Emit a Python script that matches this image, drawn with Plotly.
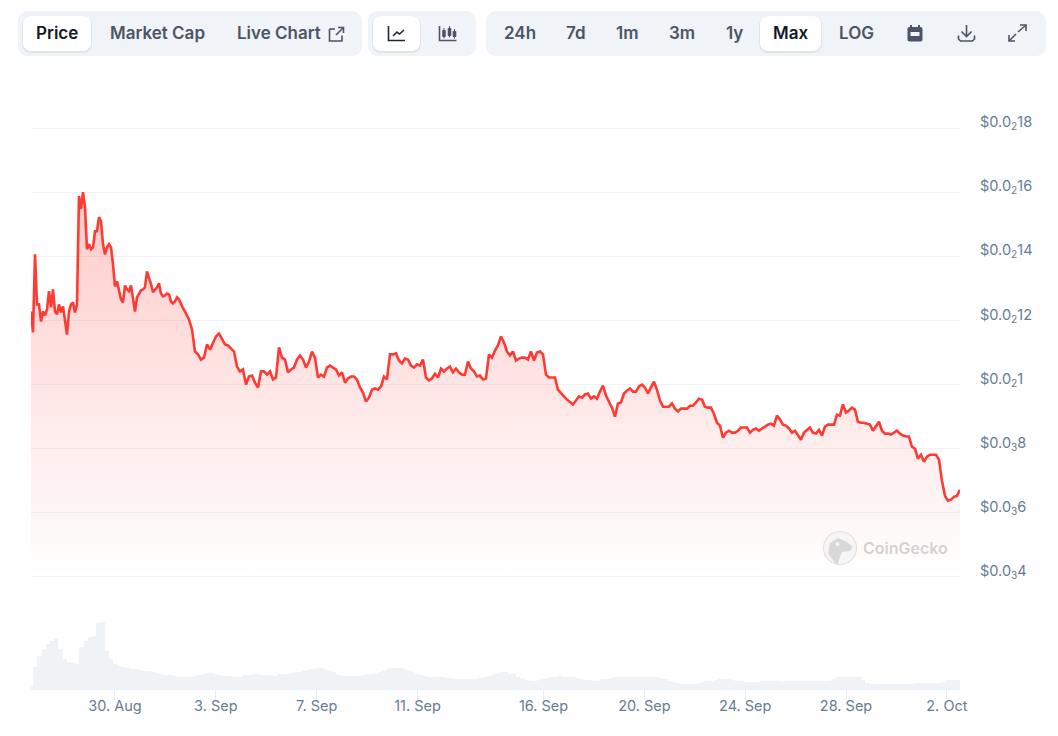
import pandas as pd
import plotly.graph_objects as go

W, H = 1058, 736

# Price, in units of 0.0001
price_early = [
    12.28, 11.63, 14.06, 12.5, 12.5, 11.97, 12.28, 12.16, 12.34, 12.91, 12.41, 12.97, 12.28, 12.19, 12.5, 12.25,
    12.44, 11.97, 11.56, 12.28, 12.5, 12.56, 12.25, 12.5, 15.88, 15.47, 16.0, 15.53, 14.22, 14.38, 14.22, 14.28,
    14.78, 14.78, 15.22, 15.09, 14.38, 14.06, 14.28, 14.38, 14.28, 13.75, 13.06, 13.22, 12.94, 12.66, 12.56, 13.09,
    12.97, 12.91, 13.09, 12.72, 12.28, 12.72, 12.81, 12.94, 12.97, 13.03, 13.53, 13.34, 13.13, 12.88, 12.94, 13.03,
    13.16, 12.84, 12.75, 12.78, 12.84, 12.81, 12.59, 12.53, 12.59, 12.72, 12.66, 12.5, 12.38, 12.28, 12.13, 12.03,
]
price_late = [
    11.72, 11.03, 10.94, 10.78, 10.84, 11.25, 11.09, 11.31, 11.5, 11.59, 11.41, 11.25, 11.22, 11.13, 11.03, 10.56,
    10.41, 10.47, 10.0, 10.25, 10.28, 10.06, 9.91, 10.41, 10.41, 10.31, 10.41, 10.16, 10.22, 11.16, 10.84, 10.78,
    10.38, 10.47, 10.53, 10.78, 10.91, 10.78, 10.53, 10.72, 11.03, 10.84, 10.22, 10.31, 10.25, 10.53, 10.59, 10.53,
    10.47, 10.28, 10.38, 10.06, 10.19, 10.25, 10.25, 10.16, 9.91, 9.75, 9.47, 9.59, 9.84, 9.88, 9.84,
    9.94, 10.25, 10.16, 10.94, 10.94, 10.97, 10.75, 10.66, 10.81, 10.78, 10.59, 10.53, 10.63, 10.59, 10.78, 10.22,
    10.13, 10.19, 10.34, 10.22, 10.5, 10.41, 10.5, 10.56, 10.38, 10.5, 10.38, 10.31, 10.31, 10.72, 10.5, 10.41,
    10.25, 10.28, 10.16, 10.19, 10.94, 10.84, 11.06, 11.22, 11.5, 11.31, 11.03, 10.91, 11.03, 10.75, 10.81, 10.84,
    10.84, 10.78, 11.03, 10.75, 11.0, 11.03, 10.94, 10.31, 10.22, 10.22, 10.22, 9.84, 9.75, 9.63, 9.53,
    9.44, 9.38, 9.5, 9.63, 9.59, 9.69, 9.72, 9.56, 9.63, 9.56, 9.78, 9.97, 9.66, 9.47, 9.28, 9.0,
    9.41, 9.44, 9.72, 9.81, 9.88, 9.78, 9.78, 9.94, 10.0, 9.91, 9.72, 9.91, 10.09, 9.84, 9.5, 9.31,
    9.31, 9.31, 9.41, 9.25, 9.16, 9.25, 9.25, 9.25, 9.34, 9.34, 9.44, 9.56, 9.53, 9.31, 9.28, 9.28,
    9.09, 8.81, 8.72, 8.34, 8.5, 8.56, 8.5, 8.5, 8.56, 8.66, 8.66, 8.66, 8.5, 8.59, 8.63, 8.56,
    8.63, 8.69, 8.75, 8.78, 8.72, 9.03, 8.91, 8.75, 8.72, 8.63, 8.5, 8.56, 8.41, 8.28, 8.5, 8.59,
    8.66, 8.5, 8.47, 8.59, 8.41, 8.69, 8.75, 8.75, 8.75, 9.06, 9.03, 9.38, 9.13, 9.19, 9.28, 9.22,
    8.84, 8.81, 8.81, 8.78, 8.75, 8.56, 8.72, 8.84, 8.56, 8.47, 8.47, 8.44, 8.5, 8.56, 8.47, 8.41,
    8.38, 8.38, 8.06, 8.0, 7.69, 7.81, 7.59, 7.75, 7.81, 7.81, 7.81, 7.66, 7.0, 6.53, 6.38, 6.41,
    6.5, 6.53, 6.72,
]
# Volume in arbitrary units, 4-hourly bars
volume = [
    3, 22, 33, 40, 45, 48, 50, 40, 30, 27, 26, 25, 42, 48, 52, 53, 66, 67, 38, 30, 25, 23, 22, 21, 20, 20, 19, 18, 18, 17,
    16, 15, 14, 14, 13, 12, 12, 12, 12, 13, 14, 15, 16, 16, 15, 14, 13, 13, 12, 12, 12, 14, 14, 15, 15, 14, 14, 14, 13, 15,
    15, 15, 16, 17, 17, 18, 19, 20, 21, 21, 20, 18, 17, 14, 13, 13, 13, 13, 13, 14, 15, 15, 16, 17, 18, 20, 21, 21, 21, 20,
    18, 17, 15, 14, 13, 12, 12, 12, 12, 11, 11, 10, 10, 10, 10, 10, 10, 11, 12, 13, 14, 16, 17, 17, 15, 15, 12, 11, 9, 8,
    8, 9, 10, 11, 12, 12, 13, 12, 12, 12, 11, 10, 9, 9, 8, 8, 10, 10, 11, 12, 12, 12, 12, 12, 12, 12, 12, 12, 12, 12,
    11, 10, 8, 7, 6, 5, 5, 5, 5, 6, 7, 8, 8, 9, 10, 10, 10, 9, 8, 8, 7, 7, 7, 7, 8, 8, 8, 8, 8, 7,
    8, 8, 8, 8, 8, 8, 8, 8, 8, 8, 8, 10, 12, 12, 12, 12, 12, 12, 9, 6, 5, 5, 5, 5, 5, 5, 5, 5, 5, 5,
    5, 6, 6, 6, 6, 6, 6, 7, 9, 9, 9, 9,
]
x_tick_dates = ["2024-08-30", "2024-09-03", "2024-09-07", "2024-09-11", "2024-09-16",
                "2024-09-20", "2024-09-24", "2024-09-28", "2024-10-02"]
x_tick_labels = ["30. Aug", "3. Sep", "7. Sep", "11. Sep", "16. Sep", "20. Sep", "24. Sep", "28. Sep", "2. Oct"]
y_tick_units = [18, 16, 14, 12, 10, 8, 6, 4]
y_tick_labels = ["$0.0<sub>2</sub>18", "$0.0<sub>2</sub>16", "$0.0<sub>2</sub>14", "$0.0<sub>2</sub>12",
                 "$0.0<sub>2</sub>1", "$0.0<sub>3</sub>8", "$0.0<sub>3</sub>6", "$0.0<sub>3</sub>4"]

PRICE_UNIT = 1e-4
start = pd.Timestamp("2024-08-26 16:02")
early_step = pd.Timedelta(hours=1.904)
late_step = pd.Timedelta(hours=2.856)
times_early = [start + i * early_step for i in range(len(price_early))]
times_late = [times_early[-1] + (i + 1) * late_step for i in range(len(price_late))]
price_time = times_early + times_late
price = [v * PRICE_UNIT for v in price_early + price_late]
vol_time = [start + pd.Timedelta(hours=4 * i) for i in range(len(volume))]

RED = "#ff3a33"
TICK = "#677b93"
GRID = "rgba(226,232,240,0.55)"
FONT = "Inter"

fig = go.Figure()
fig.add_trace(go.Bar(x=vol_time, y=volume, yaxis="y2", width=4 * 3600 * 1000,
                     marker=dict(color="#f0f3f6", line=dict(width=0)), hoverinfo="skip", showlegend=False))
fig.add_trace(go.Scatter(x=price_time, y=price, yaxis="y", mode="lines",
                         line=dict(color=RED, width=2.6), fill="tozeroy",
                         fillgradient=dict(type="vertical", start=16 * PRICE_UNIT, stop=4 * PRICE_UNIT,
                                           colorscale=[[0, "rgba(255,58,51,0.27)"], [0.5, "rgba(255,58,51,0.13)"],
                                                       [1, "rgba(255,58,51,0)"]]),
                         showlegend=False))


def px(x):
    return x / W


def py(y):
    return 1 - y / H


def pth(points, close=False):
    s = "M " + " L ".join(f"{px(a):.5f},{py(b):.5f}" for a, b in points)
    return s + (" Z" if close else "")


def rrect(x0, y0, x1, y1, r):
    k = 0.45 * r
    c = [(x0 + r, y0), (x1 - r, y0), (x1 - k, y0), (x1, y0 + k), (x1, y0 + r), (x1, y1 - r), (x1, y1 - k), (x1 - k, y1),
         (x1 - r, y1), (x0 + r, y1), (x0 + k, y1), (x0, y1 - k), (x0, y1 - r), (x0, y0 + r), (x0, y0 + k), (x0 + k, y0), (x0 + r, y0)]
    f = lambda p: f"{px(p[0]):.5f},{py(p[1]):.5f}"
    return (f"M {f(c[0])} L {f(c[1])} C {f(c[2])} {f(c[3])} {f(c[4])} L {f(c[5])} C {f(c[6])} {f(c[7])} {f(c[8])} "
            f"L {f(c[9])} C {f(c[10])} {f(c[11])} {f(c[12])} L {f(c[13])} C {f(c[14])} {f(c[15])} {f(c[16])} Z")


shapes = []


def fill_shape(path, color, layer="above"):
    shapes.append(dict(type="path", xref="paper", yref="paper", path=path, fillcolor=color,
                       line=dict(width=0), layer=layer))


def stroke(points, color="#4b5565", width=1.6):
    shapes.append(dict(type="path", xref="paper", yref="paper", path=pth(points),
                       line=dict(color=color, width=width), layer="above"))


PILL = "#f0f3f8"
for box in [(18, 11, 362, 56), (368, 11, 476, 56), (486, 11, 1046, 56)]:
    fill_shape(rrect(*box, 10), PILL)
for box in [(23, 16, 91, 51), (373, 16, 420, 51), (760, 16, 821, 51)]:
    sx0, sy0, sx1, sy1 = box
    fill_shape(rrect(sx0 - 1, sy0, sx1 + 1, sy1 + 2, 9), "rgba(15,23,42,0.07)")
    fill_shape(rrect(*box, 8), "#ffffff")

# icons
stroke([(329.5, 29), (329.5, 41), (342, 41), (342, 35.5)])
stroke([(329.5, 29), (335, 29)])
stroke([(336, 35), (343.5, 27.5)])
stroke([(338, 27.5), (343.5, 27.5), (343.5, 33)])

stroke([(388.5, 26), (388.5, 40.5), (405, 40.5)], "#1f2937")
stroke([(393, 36), (397, 32), (399.5, 34), (404, 30)], "#1f2937")

stroke([(439.5, 26), (439.5, 40.5), (456.5, 40.5)])
for cx, y0, y1 in [(444, 30, 37), (449.5, 28, 36), (454.5, 31, 37)]:
    fill_shape(rrect(cx - 1.8, y0, cx + 1.8, y1, 1), "#4b5565")
    stroke([(cx, y0 - 2), (cx, y1 + 1.5)], width=1)

fill_shape(rrect(907.5, 27, 922.5, 41.5, 2), "#4b5565")
stroke([(911, 25), (911, 28)], width=2)
stroke([(919, 25), (919, 28)], width=2)
fill_shape(rrect(910.5, 32, 919.5, 36, 0.5), PILL)

stroke([(958.5, 35.5), (958.5, 39), (960.5, 41), (972.5, 41), (974.5, 39), (974.5, 35.5)])
stroke([(966.5, 25), (966.5, 36.5)])
stroke([(961.5, 31.5), (966.5, 36.5), (971.5, 31.5)])

stroke([(1009, 41), (1016, 34)])
stroke([(1009, 35), (1009, 41), (1015, 41)])
stroke([(1018, 32), (1026, 25)])
stroke([(1020, 25), (1026, 25), (1026, 31)])

# watermark
shapes.append(dict(type="circle", xref="paper", yref="paper", x0=px(823.5), x1=px(856.5), y0=py(564.5), y1=py(531.5),
                   fillcolor="rgba(240,240,240,0.55)", line=dict(color="rgba(215,215,215,0.7)", width=1.2), layer="above"))
fill_shape(pth([(835, 563), (828, 553), (830, 543), (838, 538), (847, 542), (853, 547), (850, 551), (842, 552),
                (839, 560), (838, 564)], close=True), "rgba(205,205,205,0.75)")
shapes.append(dict(type="circle", xref="paper", yref="paper", x0=px(835.5), x1=px(839.5), y0=py(546), y1=py(542),
                   fillcolor="rgba(250,250,250,0.9)", line=dict(width=0), layer="above"))

annotations = []


def label(x, y, text, color="#4b5565", size=17, weight=600):
    annotations.append(dict(xref="paper", yref="paper", x=px(x), y=py(y), text=text, showarrow=False,
                            xanchor="center", yanchor="middle",
                            font=dict(family=FONT, size=size, color=color, weight=weight)))


label(57, 33, "Price", "#111827")
label(157, 33, "Market Cap")
label(278.5, 33, "Live Chart")
for cx, t in [(520, "24h"), (576, "7d"), (627, "1m"), (682, "3m"), (734, "1y"), (856, "LOG")]:
    label(cx, 33, t)
label(790.5, 33, "Max", "#111827")
label(905.5, 548, "CoinGecko", "rgba(205,205,205,0.9)", 16, 600)

fig.update_layout(
    width=W, height=H, autosize=False, margin=dict(l=0, r=0, t=0, b=0, pad=0),
    paper_bgcolor="white", plot_bgcolor="white", showlegend=False, bargap=0,
    xaxis=dict(domain=[px(31), px(960)], anchor="y2", type="date", automargin=False,
               range=["2024-08-26 16:02", "2024-10-02 12:29"],
               tickmode="array", tickvals=x_tick_dates, ticktext=x_tick_labels,
               ticks="outside", ticklen=10, tickcolor="#e8edf3", tickwidth=1,
               showline=True, linecolor="#eef1f6", linewidth=1, showgrid=False, zeroline=False,
               tickfont=dict(family=FONT, size=14.5, color=TICK), ticklabelstandoff=-6),
    yaxis=dict(domain=[py(609), py(104)], anchor="x", side="right", automargin=False,
               range=[3 * PRICE_UNIT, 18.75 * PRICE_UNIT],
               tickmode="array", tickvals=[v * PRICE_UNIT for v in y_tick_units], ticktext=y_tick_labels,
               showgrid=True, gridcolor=GRID, gridwidth=1, zeroline=False, showline=False, ticks="",
               ticklabelstandoff=19, ticklabelshift=-6,
               tickfont=dict(family=FONT, size=14.5, color=TICK)),
    yaxis2=dict(domain=[py(689), py(600)], anchor="x", range=[0, 89], visible=False, automargin=False),
    shapes=shapes, annotations=annotations,
)

fig.write_html("out.html", config=dict(displayModeBar=False),
               post_script="document.body.style.margin='0';document.documentElement.style.overflow='hidden';")
